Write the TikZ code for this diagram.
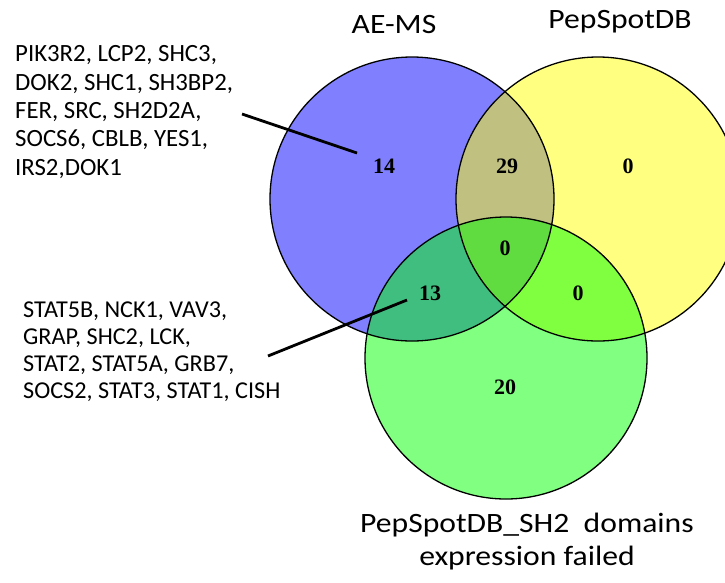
\documentclass[tikz,border=0pt]{standalone}
\usepackage{fontspec}
\setmainfont{Carlito}
\newfontfamily\numfont{Liberation Serif}
\definecolor{blueC}{RGB}{128,128,255}
\definecolor{yellowC}{RGB}{255,255,128}
\definecolor{greenC}{RGB}{128,255,128}
\definecolor{byC}{RGB}{192,192,128}
\definecolor{bgC}{RGB}{64,190,128}
\definecolor{ygC}{RGB}{128,255,64}
\definecolor{allC}{RGB}{96,220,64}
\tikzset{
  setlabel/.style={font=\fontsize{28}{33}\selectfont, xscale=1.13, inner sep=0pt, align=center},
  genelist/.style={inner sep=0pt, align=left, anchor=base west},
  count/.style={font=\numfont\bfseries\fontsize{22}{22}\selectfont, inner sep=0pt},
  ring/.style={draw=black, line width=1.3pt},
  pointer/.style={draw=black, line width=2.8pt},
}
\begin{document}
\begin{tikzpicture}[x=1pt,y=-1pt]
\useasboundingbox (0,0) rectangle (725,582);
\clip (0,0) rectangle (725,582);
\coordinate (B) at (412,199);
\coordinate (Y) at (598,199);
\coordinate (G) at (506,358);
\def\rB{142}\def\rY{142}\def\rG{141}
% base fills
\fill[blueC] (B) circle (\rB);
\fill[yellowC] (Y) circle (\rY);
\fill[greenC] (G) circle (\rG);
\begin{scope}\clip (B) circle (\rB); \fill[byC] (Y) circle (\rY);\end{scope}
\begin{scope}\clip (B) circle (\rB); \fill[bgC] (G) circle (\rG);\end{scope}
\begin{scope}\clip (Y) circle (\rY); \fill[ygC] (G) circle (\rG);\end{scope}
\begin{scope}\clip (B) circle (\rB); \clip (Y) circle (\rY); \fill[allC] (G) circle (\rG);\end{scope}
% outlines
\draw[ring] (B) circle (\rB);
\draw[ring] (Y) circle (\rY);
\draw[ring] (G) circle (\rG);
% counts
\node[count] (n14) at (384,166) {14};
\node[count] (n29) at (507,166) {29};
\node[count] (n0a) at (628,166) {0};
\node[count] (n0c) at (505,248) {0};
\node[count] (n13) at (430,293) {13};
\node[count] (n0b) at (578,293) {0};
\node[count] (n20) at (505,387) {20};
% set labels
\node[setlabel, anchor=base] (lAE) at (394,33) {AE-MS};
\node[setlabel, anchor=base] (lPS) at (620,28) {PepSpotDB};
\node[setlabel, anchor=base] (lSH) at (527,565) {PepSpotDB\_SH2\ \ domains\\expression failed};
% gene lists (anchor = baseline of last line)
\node[genelist, font=\fontsize{24.8}{28.3}\selectfont] (list1) at (15,175)
  {PIK3R2, LCP2, SHC3,\\DOK2, SHC1, SH3BP2,\\FER, SRC, SH2D2A,\\SOCS6, CBLB, YES1,\\IRS2,DOK1};
\node[genelist, font=\fontsize{24.2}{27}\selectfont] (list2) at (23,398)
  {STAT5B, NCK1, VAV3,\\GRAP, SHC2, LCK,\\STAT2, STAT5A, GRB7,\\SOCS2, STAT3, STAT1, CISH};
% pointers
\coordinate (p1a) at (242,114);
\coordinate (p1b) at (357,153);
\coordinate (p2a) at (268,356);
\coordinate (p2b) at (407,300);
\draw[pointer] (p1a) -- (p1b);
\draw[pointer] (p2a) -- (p2b);
\end{tikzpicture}
\end{document}
